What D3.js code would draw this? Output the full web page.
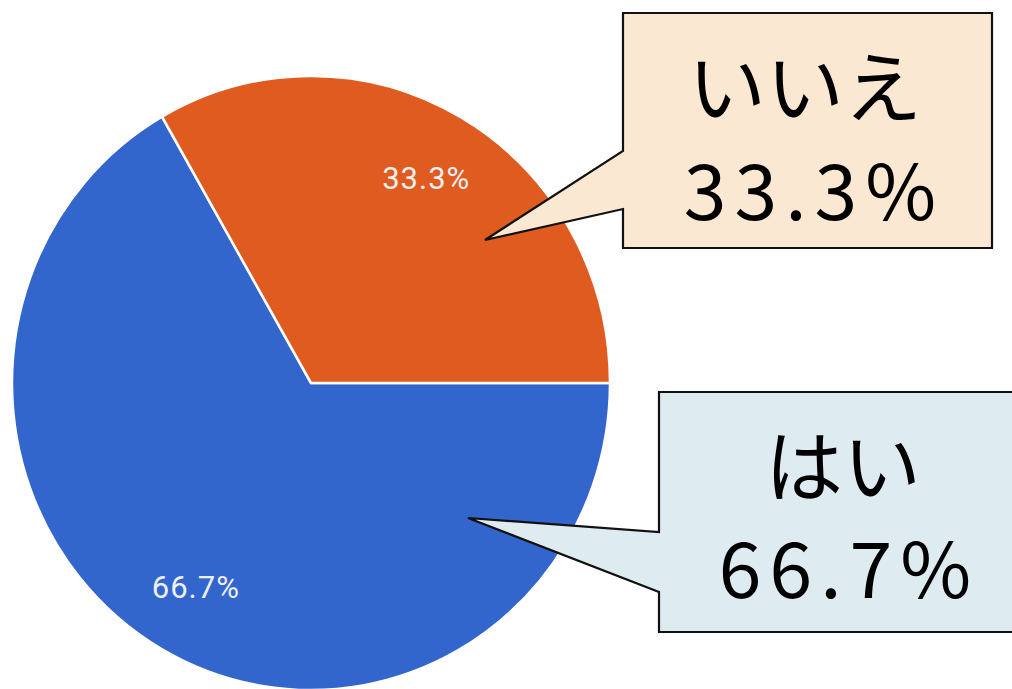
<!DOCTYPE html>
<html>
<head>
<meta charset="utf-8">
<script src="https://cdn.jsdelivr.net/npm/d3@7"></script>
<style>
  body { margin: 0; background: #fff; }
  svg { display: block; }
</style>
</head>
<body>
<div id="container"></div>
<script>
/* DATA */
const categories = ["はい", "いいえ"];
const values = [66.7, 33.3];
const sliceLabels = ["66.7%", "33.3%"];

/* CONSTANTS */
const width = 1012,
  height = 689,
  cx = 311,
  cy = 383,
  radius = 299,
  yStretch = 1.027,
  labelRadius = 230;

const colors = d3.scaleOrdinal()
  .domain(categories)
  .range(["#3366cc", "#e05b20"]);

const svg = d3.select("#container")
  .append("svg")
  .attr("width", width)
  .attr("height", height);

const pie = d3.pie()
  .sort(null)
  .value(d => d.value)
  .startAngle(Math.PI / 2)
  .endAngle(Math.PI / 2 + 2 * Math.PI);

const data = categories.map((c, i) => ({ cat: c, value: values[i], label: sliceLabels[i] }));
const arcs = pie(data);

const arc = d3.arc().innerRadius(0).outerRadius(radius);
const labelArc = d3.arc().innerRadius(labelRadius).outerRadius(labelRadius);

const g = svg.append("g")
  .attr("transform", `translate(${cx},${cy}) scale(1,${yStretch})`);

g.selectAll("path.slice")
  .data(arcs)
  .join("path")
  .attr("class", "slice")
  .attr("d", arc)
  .attr("fill", d => colors(d.data.cat))
  .attr("stroke", "#fff")
  .attr("stroke-width", 2.5);

// percent labels inside slices (kept outside the stretched group)
svg.selectAll("text.pct")
  .data(arcs)
  .join("text")
  .attr("class", "pct")
  .attr("x", d => cx + labelArc.centroid(d)[0])
  .attr("y", d => cy + labelArc.centroid(d)[1] * yStretch)
  .attr("dy", "0.35em")
  .attr("text-anchor", "middle")
  .attr("fill", "#eef0f4")
  .style("font-family", "Roboto, Arial, sans-serif")
  .style("font-size", "31px")
  .style("letter-spacing", "1px")
  .text(d => d.data.label);

/* CALLOUTS */
const callouts = [
  { cat: "いいえ", pct: "33.3%", fill: "#fbe8d2",
    box: [623, 13, 992, 248], join: [151, 209], tip: [485, 240],
    tx1: 805, tx2: 810, line1: 117, line2: 220 },
  { cat: "はい", pct: "66.7%", fill: "#deebf1",
    box: [659, 392, 1016, 632], join: [532, 592], tip: [468, 518],
    tx1: 843, tx2: 845, line1: 496, line2: 598 }
];

callouts.forEach(c => {
  const [x0, y0, x1, y1] = c.box;
  const p = d3.path();
  p.moveTo(x0, y0);
  p.lineTo(x1, y0);
  p.lineTo(x1, y1);
  p.lineTo(x0, y1);
  p.lineTo(x0, c.join[1]);
  p.lineTo(c.tip[0], c.tip[1]);
  p.lineTo(x0, c.join[0]);
  p.closePath();
  svg.append("path")
    .attr("d", p.toString())
    .attr("fill", c.fill)
    .attr("stroke", "#111")
    .attr("stroke-width", 2.2)
    .attr("stroke-linejoin", "miter");

  svg.append("text")
    .attr("x", c.tx1)
    .attr("y", c.line1)
    .attr("text-anchor", "middle")
    .style("font-family", "'Noto Sans CJK JP', sans-serif")
    .style("font-size", "78px")
    .attr("fill", "#000")
    .text(c.cat);
  svg.append("text")
    .attr("x", c.tx2 + 4)
    .attr("y", c.line2)
    .attr("text-anchor", "middle")
    .style("font-family", "'Noto Sans CJK JP', sans-serif")
    .style("font-size", "77px")
    .style("letter-spacing", "8px")
    .attr("fill", "#000")
    .text(c.pct);
});
</script>
</body>
</html>
